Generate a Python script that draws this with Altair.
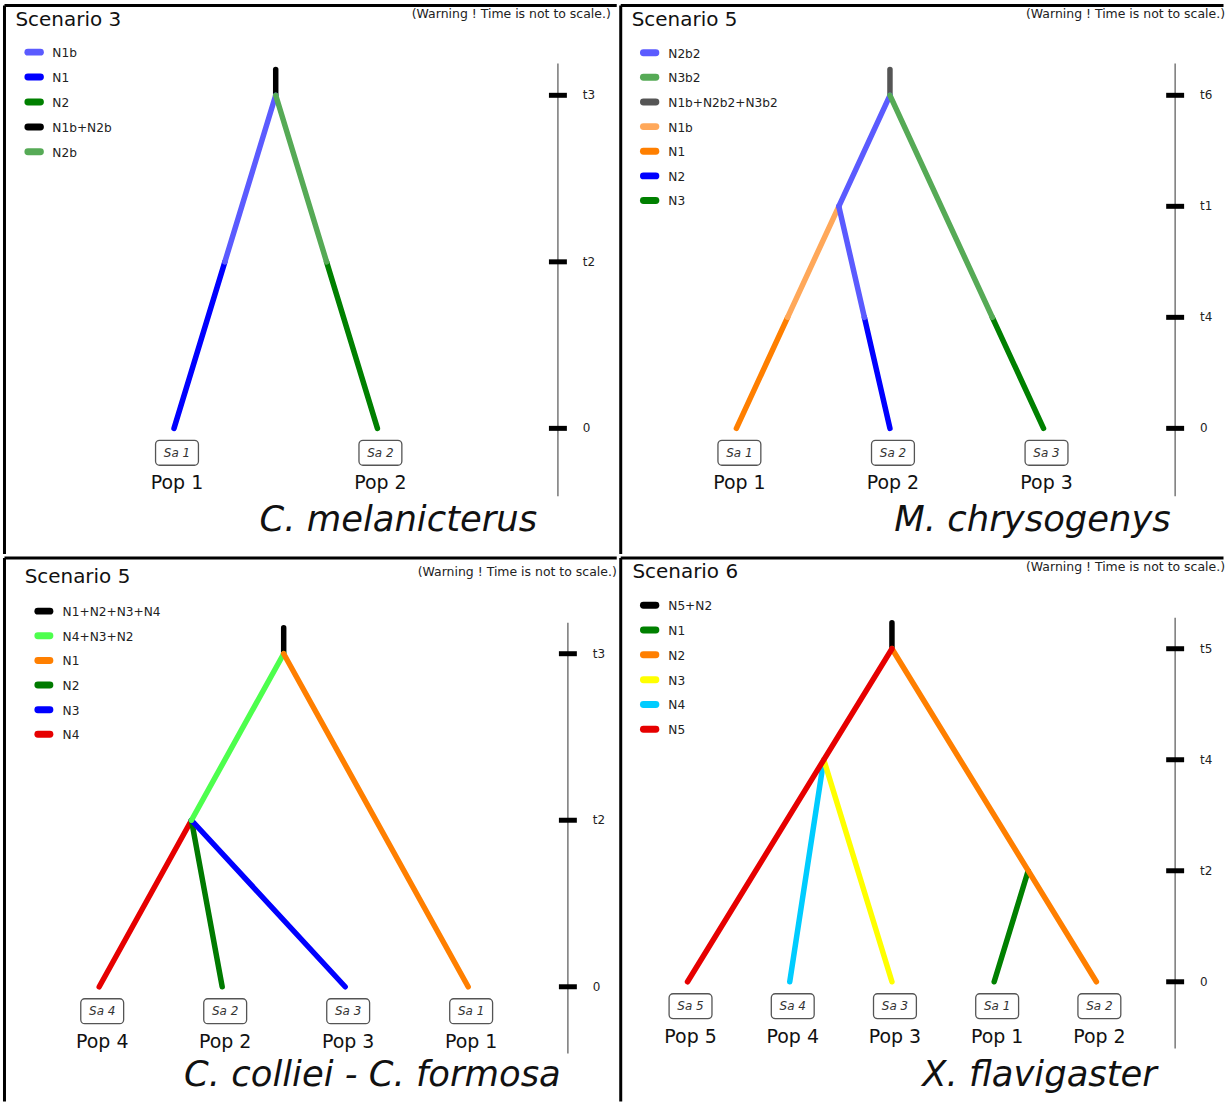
import altair as alt
import pandas as pd

FONT = "DejaVu Sans"

# ---------------- data ----------------
# Panel A (top left)
A_title = "Scenario 3"
A_species = "C. melanicterus"
A_legend_names = ["N1b", "N1", "N2", "N1b+N2b", "N2b"]
A_legend_colors = ["#5b5bff", "#0000ff", "#008000", "#000000", "#56aa56"]
A_pops = ["Pop 1", "Pop 2"]
A_samples = ["Sa 1", "Sa 2"]
A_time_labels = ["0", "t2", "t3"]
A_nodes = {"L0": (0, 0), "L1": (1, 0), "R": (0.5, 2)}
A_branches = [("L0", "R", [(0, 1, "N1"), (1, 2, "N1b")]),
              ("L1", "R", [(0, 1, "N2"), (1, 2, "N2b")])]
A_root = ("R", "N1b+N2b")

# Panel B (top right)
B_title = "Scenario 5"
B_species = "M. chrysogenys"
B_legend_names = ["N2b2", "N3b2", "N1b+N2b2+N3b2", "N1b", "N1", "N2", "N3"]
B_legend_colors = ["#5b5bff", "#56aa56", "#555555", "#ffa85a", "#ff7f00", "#0000ff", "#008000"]
B_pops = ["Pop 1", "Pop 2", "Pop 3"]
B_samples = ["Sa 1", "Sa 2", "Sa 3"]
B_time_labels = ["0", "t4", "t1", "t6"]
B_nodes = {"L0": (0, 0), "L1": (1, 0), "L2": (2, 0), "A": (0.667, 2), "R": (1, 3)}
B_branches = [("L0", "A", [(0, 1, "N1"), (1, 2, "N1b")]),
              ("L1", "A", [(0, 1, "N2"), (1, 2, "N2b2")]),
              ("A", "R", [(2, 3, "N2b2")]),
              ("L2", "R", [(0, 1, "N3"), (1, 3, "N3b2")])]
B_root = ("R", "N1b+N2b2+N3b2")

# Panel C (bottom left)
C_title = "Scenario 5"
C_species = "C. colliei - C. formosa"
C_legend_names = ["N1+N2+N3+N4", "N4+N3+N2", "N1", "N2", "N3", "N4"]
C_legend_colors = ["#000000", "#4dff4d", "#ff7f00", "#007a00", "#0000ff", "#e60000"]
C_pops = ["Pop 4", "Pop 2", "Pop 3", "Pop 1"]
C_samples = ["Sa 4", "Sa 2", "Sa 3", "Sa 1"]
C_time_labels = ["0", "t2", "t3"]
C_nodes = {"L0": (0, 0), "L1": (1, 0), "L2": (2, 0), "L3": (3, 0), "A": (0.75, 1), "R": (1.5, 2)}
C_branches = [("L0", "A", [(0, 1, "N4")]),
              ("L1", "A", [(0, 1, "N2")]),
              ("L2", "A", [(0, 1, "N3")]),
              ("A", "R", [(1, 2, "N4+N3+N2")]),
              ("L3", "R", [(0, 2, "N1")])]
C_root = ("R", "N1+N2+N3+N4")

# Panel D (bottom right)
D_title = "Scenario 6"
D_species = "X. flavigaster"
D_legend_names = ["N5+N2", "N1", "N2", "N3", "N4", "N5"]
D_legend_colors = ["#000000", "#008000", "#ff7f00", "#ffff00", "#00ccff", "#e60000"]
D_pops = ["Pop 5", "Pop 4", "Pop 3", "Pop 1", "Pop 2"]
D_samples = ["Sa 5", "Sa 4", "Sa 3", "Sa 1", "Sa 2"]
D_time_labels = ["0", "t2", "t4", "t5"]
D_nodes = {"L0": (0, 0), "L1": (1, 0), "L2": (2, 0), "L3": (3, 0), "L4": (4, 0),
           "A": (1.333, 2), "B": (3.333, 1), "R": (2, 3)}
D_branches = [("L1", "A", [(0, 2, "N4")]),
              ("L2", "A", [(0, 2, "N3")]),
              ("L3", "B", [(0, 1, "N1")]),
              ("L4", "R", [(0, 3, "N2")]),
              ("L0", "R", [(0, 3, "N5")])]
D_root = ("R", "N5+N2")

WARNING = "(Warning ! Time is not to scale.)"

# ---------------- layout (panel-local pixels) ----------------
LA = dict(W=614, H=550, trim_x=0, trim_y=0, leaf_range=[170, 374], level_range=[424, 90],
          axis_x=555, axis_line=[58, 492], title=(11, 20.5), warn=(608, 8.5), leg_x=(23.5, 36),
          leg_lx=48, leg_y0=46.7, leg_step=25, species=(395, 527))
LB = dict(W=607.5, H=550, trim_x=3, trim_y=0, leaf_range=[116, 424], level_range=[424, 90],
          axis_x=556, axis_line=[58, 492], title=(11, 20.5), warn=(606, 8.5), leg_x=(22.8, 35.2),
          leg_lx=47.7, leg_y0=47.3, leg_step=24.7, species=(413, 527))
LC = dict(W=614, H=548, trim_x=0, trim_y=3, leaf_range=[95, 465], level_range=[430, 96],
          axis_x=565, axis_line=[65, 497], title=(20.2, 25.5), warn=(614, 14.5), leg_x=(33.5, 45.5),
          leg_lx=58.3, leg_y0=53.3, leg_step=24.7, species=(369, 530))
LD = dict(W=607.5, H=548, trim_x=3, trim_y=3, leaf_range=[67, 477], level_range=[425, 91],
          axis_x=556, axis_line=[60, 492], title=(11.7, 20.5), warn=(606, 9.5), leg_x=(22.8, 35.2),
          leg_lx=47.7, leg_y0=47.3, leg_step=24.9, species=(420, 530))


def panel(title, species, names, colors, pops, samples, tlabels, nodes, branches, root, L):
    cmap = dict(zip(names, colors))
    xs = alt.Scale(domain=[0, len(pops) - 1], range=L["leaf_range"], nice=False, zero=False)
    ys = alt.Scale(domain=[0, len(tlabels) - 1], range=L["level_range"], nice=False, zero=False)
    one = pd.DataFrame({"a": [0]})

    # panel borders (top and left edges only)
    b_top = alt.Chart(one).mark_rule(color="black", strokeWidth=3).encode(
        x=alt.value(0), x2=alt.value(L["W"] - L["trim_x"]), y=alt.value(0))
    b_left = alt.Chart(one).mark_rule(color="black", strokeWidth=3).encode(
        x=alt.value(0), y=alt.value(0), y2=alt.value(L["H"] - L["trim_y"]))

    # branch segments
    rows = []
    for child, parent, segs in branches:
        (xa, la), (xb, lb) = nodes[child], nodes[parent]
        for l0, l1, nm in segs:
            xat = lambda l: xa + (l - la) / (lb - la) * (xb - xa)
            rows.append(dict(x=xat(l0), y=l0, x2=xat(l1), y2=l1, c=cmap[nm]))
    seg_df = pd.DataFrame(rows)
    rx, rl = nodes[root[0]]
    stem_df = pd.DataFrame([dict(x=rx, y=rl, c=cmap[root[1]])])

    stem = alt.Chart(stem_df).mark_rule(strokeWidth=5.5, strokeCap="round", y2Offset=-26).encode(
        x=alt.X("x:Q", scale=xs, axis=None),
        y=alt.Y("y:Q", scale=ys, axis=None), y2="y:Q",
        color=alt.Color("c:N", scale=None))
    tree = alt.Chart(seg_df).mark_rule(strokeWidth=5.5, strokeCap="round").encode(
        x=alt.X("x:Q", scale=xs, axis=None), x2="x2:Q",
        y=alt.Y("y:Q", scale=ys, axis=None), y2="y2:Q",
        color=alt.Color("c:N", scale=None))

    # time axis
    ax = L["axis_x"]
    axis_line = alt.Chart(one).mark_rule(color="#777777", strokeWidth=1.5).encode(
        x=alt.value(ax), y=alt.value(L["axis_line"][0]), y2=alt.value(L["axis_line"][1]))
    tick_df = pd.DataFrame({"lvl": list(range(len(tlabels))), "lab": tlabels})
    ticks = alt.Chart(tick_df).mark_rule(color="black", strokeWidth=5).encode(
        x=alt.value(ax - 9), x2=alt.value(ax + 9),
        y=alt.Y("lvl:Q", scale=ys, axis=None))
    tick_lab = alt.Chart(tick_df).mark_text(font=FONT, fontSize=12, color="#222222",
                                            align="left", baseline="middle").encode(
        x=alt.value(ax + 25), y=alt.Y("lvl:Q", scale=ys, axis=None), text="lab:N")

    # leaf labels
    leaf_df = pd.DataFrame({"x": list(range(len(pops))), "lvl": [0] * len(pops),
                            "pop": pops, "sa": samples})
    boxes = alt.Chart(leaf_df).mark_rect(fill="white", stroke="#555555", strokeWidth=1.3,
                                         cornerRadius=4, xOffset=3 - 21.5, x2Offset=3 + 21.5,
                                         yOffset=12, y2Offset=37).encode(
        x=alt.X("x:Q", scale=xs, axis=None), x2="x:Q",
        y=alt.Y("lvl:Q", scale=ys, axis=None), y2="lvl:Q")
    sa_txt = alt.Chart(leaf_df).mark_text(font=FONT, fontSize=12, fontStyle="italic",
                                          color="#333333", dx=3, dy=24.5,
                                          baseline="middle").encode(
        x=alt.X("x:Q", scale=xs, axis=None), y=alt.Y("lvl:Q", scale=ys, axis=None),
        text="sa:N")
    pop_txt = alt.Chart(leaf_df).mark_text(font=FONT, fontSize=19, color="#111111",
                                           dx=3, dy=55, baseline="middle").encode(
        x=alt.X("x:Q", scale=xs, axis=None), y=alt.Y("lvl:Q", scale=ys, axis=None),
        text="pop:N")

    # legend
    leg_df = pd.DataFrame({"name": names, "c": colors,
                           "ly": [L["leg_y0"] + i * L["leg_step"] for i in range(len(names))]})
    leg_sw = alt.Chart(leg_df).mark_rule(strokeWidth=7, strokeCap="round").encode(
        x=alt.value(L["leg_x"][0]), x2=alt.value(L["leg_x"][1]),
        y=alt.Y("ly:Q", scale=None, axis=None),
        color=alt.Color("c:N", scale=None))
    leg_tx = alt.Chart(leg_df).mark_text(font=FONT, fontSize=12.2, color="#222222",
                                         align="left", baseline="middle", dy=1).encode(
        x=alt.value(L["leg_lx"]), y=alt.Y("ly:Q", scale=None, axis=None), text="name:N")

    # texts
    t_df = pd.DataFrame({"t": [title], "w": [WARNING], "s": [species]})
    ttl = alt.Chart(t_df).mark_text(font=FONT, fontSize=20, color="#111111", align="left",
                                    baseline="alphabetic").encode(
        x=alt.value(L["title"][0]), y=alt.value(L["title"][1]), text="t:N")
    warn = alt.Chart(t_df).mark_text(font=FONT, fontSize=12.5, color="#222222", align="right",
                                     baseline="middle").encode(
        x=alt.value(L["warn"][0]), y=alt.value(L["warn"][1]), text="w:N")
    spc = alt.Chart(t_df).mark_text(font=FONT, fontSize=35.5, fontStyle="italic", color="#111111",
                                    align="center", baseline="alphabetic").encode(
        x=alt.value(L["species"][0]), y=alt.value(L["species"][1]), text="s:N")

    return alt.layer(b_top, b_left, axis_line, ticks, tick_lab, stem, tree, boxes, sa_txt,
                     pop_txt, leg_sw, leg_tx, ttl, warn, spc).properties(width=L["W"], height=L["H"])


pA = panel(A_title, A_species, A_legend_names, A_legend_colors, A_pops, A_samples,
           A_time_labels, A_nodes, A_branches, A_root, LA)
pB = panel(B_title, B_species, B_legend_names, B_legend_colors, B_pops, B_samples,
           B_time_labels, B_nodes, B_branches, B_root, LB)
pC = panel(C_title, C_species, C_legend_names, C_legend_colors, C_pops, C_samples,
           C_time_labels, C_nodes, C_branches, C_root, LC)
pD = panel(D_title, D_species, D_legend_names, D_legend_colors, D_pops, D_samples,
           D_time_labels, D_nodes, D_branches, D_root, LD)

top = alt.hconcat(pA, pB, spacing=0)
bottom = alt.hconcat(pC, pD, spacing=0)
chart = alt.vconcat(top, bottom, spacing=0).properties(
    padding={"left": 2.5, "top": 2, "right": 0, "bottom": 0},
    background="white",
).configure_view(strokeWidth=0, strokeOpacity=0).configure_concat(spacing=0)

chart.save("out.html", embed_options={"renderer": "svg", "actions": False})
